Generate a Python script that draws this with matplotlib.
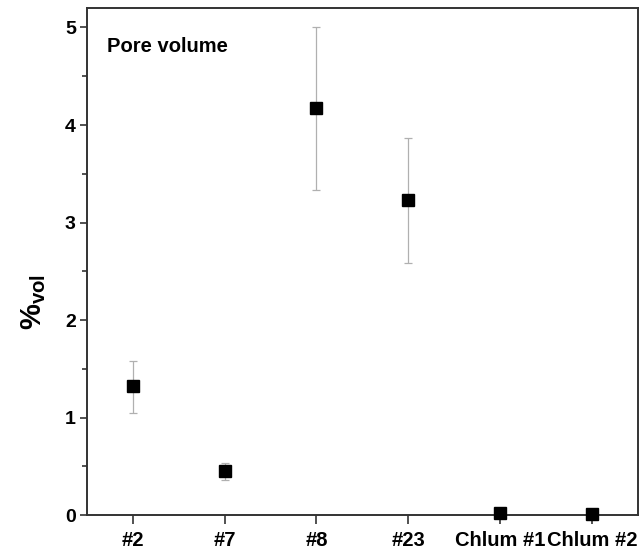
import matplotlib.pyplot as plt
from matplotlib.ticker import MultipleLocator

# Daten
samples = ['#2', '#7', '#8', '#23', 'Chlum #1', 'Chlum #2']
pore_volume = [1.32, 0.45, 4.17, 3.23, 0.02, 0.01]
err_low = [0.27, 0.09, 0.84, 0.65, 0.0, 0.0]
err_high = [0.26, 0.08, 0.83, 0.64, 0.0, 0.0]

plt.rcParams['font.family'] = ['Liberation Sans', 'DejaVu Sans']
plt.rcParams['mathtext.fontset'] = 'custom'
plt.rcParams['mathtext.rm'] = 'Liberation Sans:bold'
plt.rcParams['mathtext.it'] = 'Liberation Sans:bold'
plt.rcParams['mathtext.bf'] = 'Liberation Sans:bold'

fig = plt.figure(figsize=(6.41, 5.55), dpi=100)
ax = fig.add_axes([0.1357, 0.072, 0.8593, 0.9136])

x = list(range(len(samples)))
ax.errorbar(x, pore_volume, yerr=[err_low, err_high], fmt='none',
            ecolor='#b0b0b0', elinewidth=0.9, capsize=3, capthick=0.9, zorder=2)
ax.plot(x, pore_volume, 's', color='black', markersize=9, zorder=3, clip_on=False)

ax.set_xlim(-0.5, 5.5)
ax.set_ylim(0, 5.2)
ax.set_xticks(x)
ax.set_xticklabels(samples)
ax.yaxis.set_major_locator(MultipleLocator(1))
ax.yaxis.set_minor_locator(MultipleLocator(0.5))

for s in ax.spines.values():
    s.set_linewidth(1.4)
    s.set_color('#333333')

ax.tick_params(axis='both', which='major', direction='out', width=1.2,
               color='#333333', labelsize=14)
ax.tick_params(axis='x', length=6.5, pad=5, labelsize=14.5)
ax.tick_params(axis='y', which='major', length=5, pad=3)
ax.tick_params(axis='y', which='minor', direction='out', length=3.5, width=1.2, color='#333333')
for lab in ax.get_xticklabels() + ax.get_yticklabels():
    lab.set_fontweight('bold')

ax.set_ylabel(r'%$_{\mathrm{vol}}$', fontsize=21, fontweight='bold')
ax.yaxis.set_label_coords(-0.071, 0.42)

ax.text(0.036, 0.925, 'Pore volume', transform=ax.transAxes, fontsize=14.5,
        fontweight='bold', va='center', ha='left')

plt.savefig('out.png', dpi=100)
